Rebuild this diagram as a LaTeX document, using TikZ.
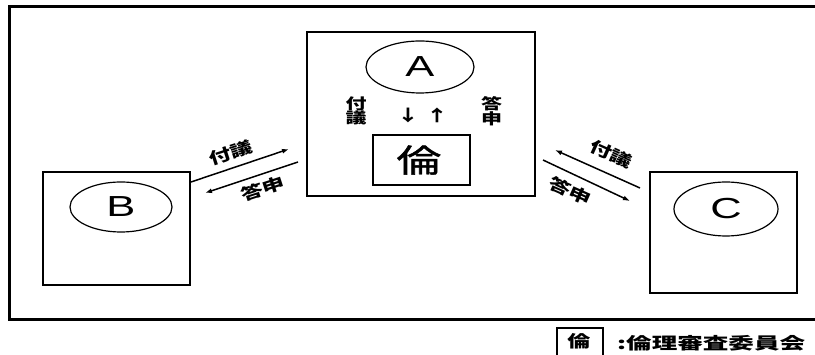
\documentclass[tikz,border=0pt]{standalone}
\usepackage{graphicx}
\usepackage{fontspec}
\setmainfont{Liberation Sans}
\newfontfamily\cjk{Noto Sans CJK JP}
\newfontfamily\cjkmed[FakeBold=1.2]{Noto Sans CJK JP}
\usetikzlibrary{arrows.meta,shapes.geometric}
\newcommand{\wideT}[2][1.4]{\scalebox{#1}[1]{#2}}
\begin{document}
\begin{tikzpicture}[x=1pt,y=-1pt,
  boxst/.style={draw,line width=1.8pt,inner sep=0pt,outer sep=0pt},
  ellst/.style={draw,ellipse,line width=1.2pt,inner sep=0pt},
  letter/.style={font=\fontsize{29}{29}\selectfont},
  jlab/.style={font=\cjk\bfseries\fontsize{16}{15}\selectfont,inner sep=0pt},
  stack/.style={font=\cjk\bfseries\fontsize{15}{14.5}\selectfont,inner sep=0pt,align=center},
  conn/.style={line width=1.5pt,-{Latex[length=7pt,width=5pt]}}]
\useasboundingbox (0,0) rectangle (815,355);
\draw[line width=3pt] (818,7) -- (9,7) -- (9,320) -- (818,320);
% boxes
\node[boxst,minimum width=228pt,minimum height=164pt] (A) at (421,114) {};
\node[boxst,minimum width=147pt,minimum height=113pt] (B) at (116.5,228.5) {};
\node[boxst,minimum width=147pt,minimum height=121pt] (C) at (723.5,232.5) {};
% ellipses
\node[ellst,minimum width=108pt,minimum height=52pt] (eA) at (420,67) {};
\node[ellst,minimum width=102pt,minimum height=50pt] (eB) at (121,207) {};
\node[ellst,minimum width=104pt,minimum height=54pt] (eC) at (726,209) {};
\node[letter] (tA) at (eA.center) {\wideT[1.5]{A}};
\node[letter] (tB) at (eB.center) {\wideT[1.5]{B}};
\node[letter] (tC) at (eC.center) {\wideT[1.5]{C}};
% rin box
\node[boxst,minimum width=97pt,minimum height=50pt] (R) at (421.5,160) {};
\node[font=\cjkmed\fontsize{32}{32}\selectfont] (Rt) at (419,160) {\wideT{倫}};
% inner labels
\node[stack] (fA) at (356,111) {\wideT{付}\\\wideT{議}};
\node[stack] (tA2) at (491.5,111) {\wideT{答}\\\wideT{申}};
\node[font=\cjk\fontsize{16}{16}\selectfont\bfseries] (dn) at (408,115) {\wideT{↓}};
\node[font=\cjk\fontsize{16}{16}\selectfont\bfseries] (up) at (437,115) {\wideT{↑}};
% connectors
\coordinate (l1s) at (191,182); \coordinate (l1e) at (289,149);
\coordinate (l2s) at (298,162); \coordinate (l2e) at (205,193);
\coordinate (r1s) at (640,188); \coordinate (r1e) at (555,150);
\coordinate (r2s) at (543,160); \coordinate (r2e) at (630,201);
\draw[conn] (l1s) -- (l1e);
\draw[conn] (l2s) -- (l2e);
\draw[conn] (r1s) -- (r1e);
\draw[conn] (r2s) -- (r2e);
\node[jlab,rotate=18] (lf) at (231,153) {\wideT{付議}};
\node[jlab,rotate=18] (lt) at (263,189) {\wideT{答申}};
\node[jlab,rotate=-24] (rf) at (611,154) {\wideT{付議}};
\node[jlab,rotate=-24] (rt) at (570,191) {\wideT{答申}};
% legend
\node[boxst,line width=1.5pt,minimum width=46pt,minimum height=32pt,anchor=north west] (L) at (557,328) {};
\node[font=\cjk\bfseries\fontsize{16.5}{16.5}\selectfont,inner sep=0pt] (Lr) at (579,341) {\wideT{倫}};
\node[font=\cjk\bfseries\fontsize{16.5}{16.5}\selectfont,anchor=west,inner sep=0pt] (Lt) at (617,343) {\wideT[1.55]{:倫理審査委員会}};
\end{tikzpicture}
\end{document}
